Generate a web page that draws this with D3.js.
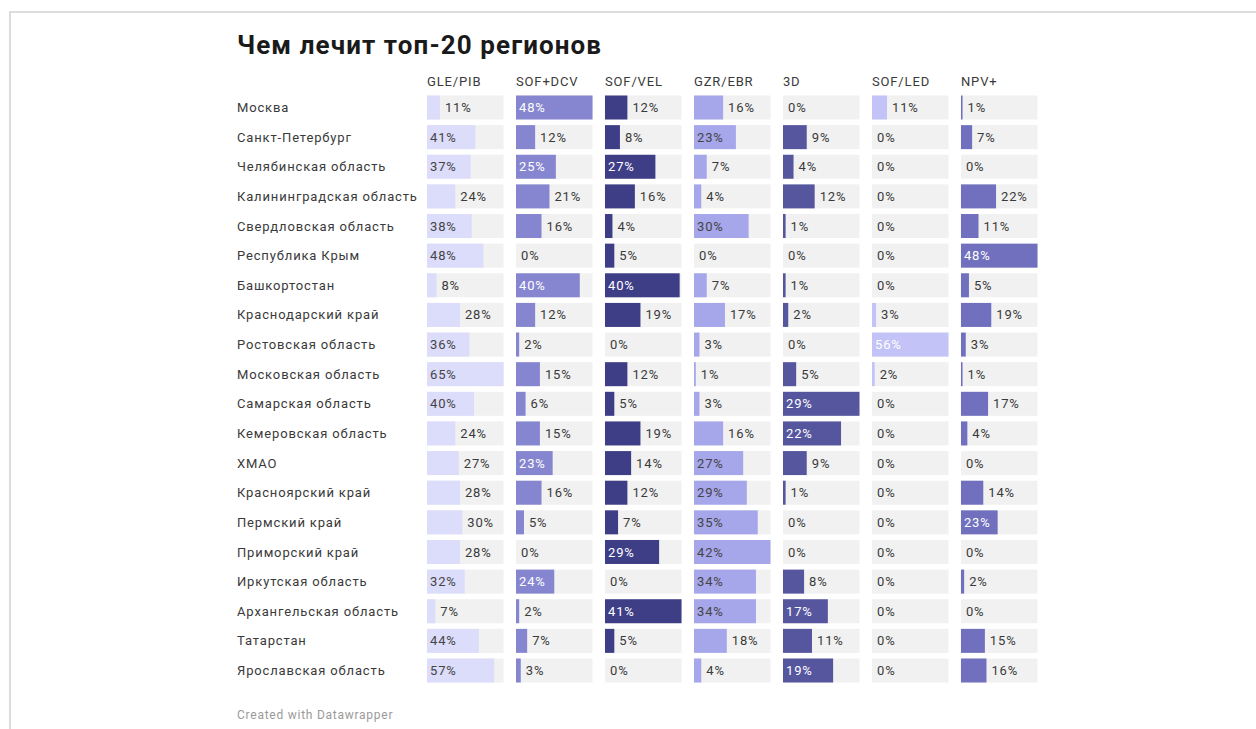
<!DOCTYPE html>
<html>
<head>
<meta charset="utf-8">
<script src="https://cdn.jsdelivr.net/npm/d3@7"></script>
<style>
  html, body { margin: 0; padding: 0; background: #fff; }
  body { width: 1256px; height: 729px; overflow: hidden; position: relative; font-family: Roboto, "Noto Sans", sans-serif; }
  #frame { position: absolute; left: 9px; top: 11px; width: 1260px; height: 760px; border: 2px solid #dcdcdc; box-sizing: border-box; }
  svg { position: absolute; left: 0; top: 0; }
</style>
</head>
<body>
<div id="frame"></div>
<svg id="chart" width="1256" height="729"></svg>
<script>
const title = "Чем лечит топ-20 регионов";
const footer = "Created with Datawrapper";
const columns = ["GLE/PIB", "SOF+DCV", "SOF/VEL", "GZR/EBR", "3D", "SOF/LED", "NPV+"];
const columnColors = ["#dcdcfb", "#8686d0", "#3e3e87", "#a6a6eb", "#56569f", "#c3c3f7", "#7070be"];
const insideTextColors = ["#444444", "#ffffff", "#ffffff", "#444444", "#ffffff", "#ffffff", "#ffffff"];
const regions = [
  "Москва", "Санкт-Петербург", "Челябинская область", "Калининградская область",
  "Свердловская область", "Республика Крым", "Башкортостан", "Краснодарский край",
  "Ростовская область", "Московская область", "Самарская область", "Кемеровская область",
  "ХМАО", "Красноярский край", "Пермский край", "Приморский край",
  "Иркутская область", "Архангельская область", "Татарстан", "Ярославская область"
];
const gleValues = [11, 41, 37, 24, 38, 48, 8, 28, 36, 65, 40, 24, 27, 28, 30, 28, 32, 7, 44, 57];
const sofDcvValues = [48, 12, 25, 21, 16, 0, 40, 12, 2, 15, 6, 15, 23, 16, 5, 0, 24, 2, 7, 3];
const sofVelValues = [12, 8, 27, 16, 4, 5, 40, 19, 0, 12, 5, 19, 14, 12, 7, 29, 0, 41, 5, 0];
const gzrValues = [16, 23, 7, 4, 30, 0, 7, 17, 3, 1, 3, 16, 27, 29, 35, 42, 34, 34, 18, 4];
const threeDValues = [0, 9, 4, 12, 1, 0, 1, 2, 0, 5, 29, 22, 9, 1, 0, 0, 8, 17, 11, 19];
const sofLedValues = [11, 0, 0, 0, 0, 0, 0, 3, 56, 2, 0, 0, 0, 0, 0, 0, 0, 0, 0, 0];
const npvValues = [1, 7, 0, 22, 11, 48, 5, 19, 3, 1, 17, 4, 0, 14, 23, 0, 2, 0, 15, 16];
const seriesValues = [gleValues, sofDcvValues, sofVelValues, gzrValues, threeDValues, sofLedValues, npvValues];

const svg = d3.select("#chart");
const textColor = "#3a3a3a";
const ls = "0.85px";

const titleText = svg.append("text")
  .attr("x", 237).attr("y", 54)
  .attr("font-size", 26).attr("font-weight", 700)
  .attr("fill", "#1a1a1a")
  .text(title);
// spread the title to the reference width
const baseW = titleText.node().getComputedTextLength();
titleText.attr("letter-spacing", Math.max(0, (364 - baseW) / (title.length - 1)) + "px");

const x = d3.scaleBand().domain(columns).range([427, 1037.5]).paddingInner(0.14).paddingOuter(0);
const y = d3.scaleBand().domain(regions).range([95.5, 682.5]).paddingInner(0.19).paddingOuter(0);

// headers
svg.selectAll("text.header").data(columns).join("text")
  .attr("class", "header")
  .attr("x", d => x(d)).attr("y", 86)
  .attr("font-size", 13).attr("letter-spacing", ls).attr("fill", textColor)
  .text(d => d);

// row labels
svg.selectAll("text.rowlabel").data(regions).join("text")
  .attr("class", "rowlabel")
  .attr("x", 237).attr("y", d => y(d) + y.bandwidth() / 2)
  .attr("dy", "0.35em")
  .attr("font-size", 13).attr("letter-spacing", ls).attr("fill", textColor)
  .text(d => d);

const bw = x.bandwidth();
columns.forEach((col, ci) => {
  const vals = seriesValues[ci];
  const sx = d3.scaleLinear().domain([0, d3.max(vals)]).range([0, bw]);
  const g = svg.append("g").attr("transform", `translate(${x(col)},0)`);
  const rows = regions.map((r, i) => ({ region: r, value: vals[i] }));
  g.selectAll("rect.bg").data(rows).join("rect")
    .attr("class", "bg")
    .attr("x", 0).attr("y", d => y(d.region))
    .attr("width", bw).attr("height", y.bandwidth())
    .attr("fill", "#f1f1f1");
  g.selectAll("rect.bar").data(rows).join("rect")
    .attr("class", "bar")
    .attr("x", 0).attr("y", d => y(d.region))
    .attr("width", d => sx(d.value)).attr("height", y.bandwidth())
    .attr("fill", columnColors[ci]);
  g.selectAll("text.val").data(rows).join("text")
    .attr("class", "val")
    .attr("x", d => sx(d.value) >= 36 ? 3 : sx(d.value) + 5)
    .attr("y", d => y(d.region) + y.bandwidth() / 2)
    .attr("dy", "0.35em")
    .attr("font-size", 13).attr("letter-spacing", ls)
    .attr("fill", d => sx(d.value) >= 36 ? insideTextColors[ci] : textColor)
    .text(d => d.value + "%");
});

svg.append("text")
  .attr("x", 237).attr("y", 719)
  .attr("font-size", 12).attr("letter-spacing", "0.75px").attr("fill", "#9a9a9a")
  .text(footer);
</script>
</body>
</html>
